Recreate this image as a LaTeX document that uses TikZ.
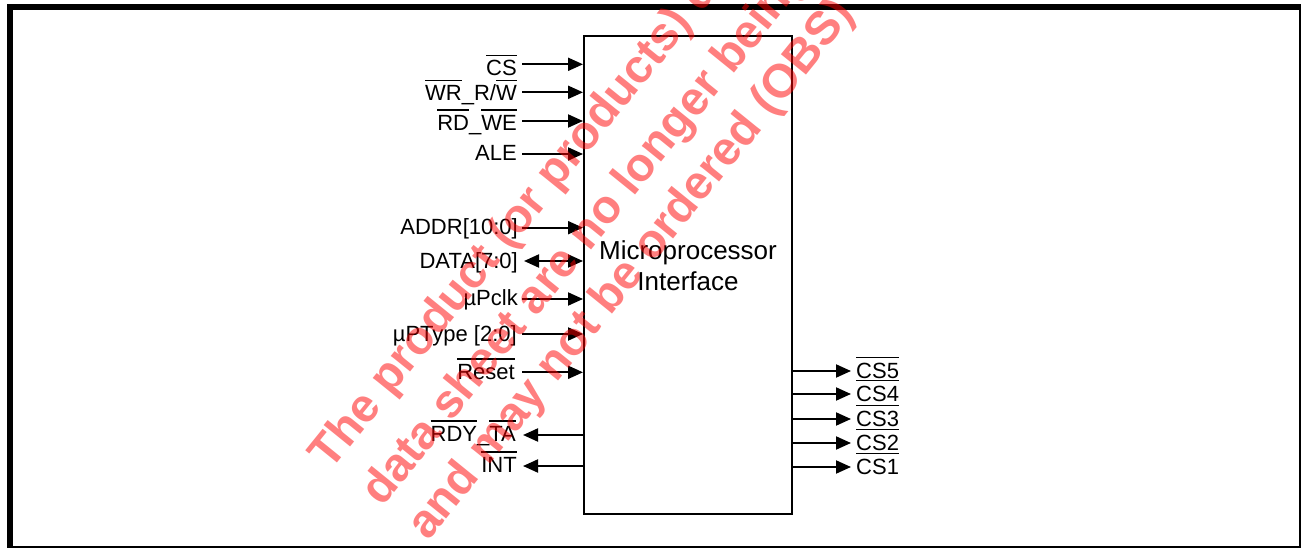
\documentclass[tikz,border=0pt]{standalone}
\usepackage{fontspec}
\setmainfont{Liberation Sans}
\usetikzlibrary{arrows.meta}
\newcommand{\ovl}[1]{\setbox0\hbox{#1}\rlap{\raisebox{\dimexpr\ht0+4.5pt\relax}{\rule{\wd0}{1.6pt}}}\box0}
\tikzset{
  lbl/.style={font=\fontsize{22}{25}\selectfont, inner sep=0pt, anchor=base east},
  rlbl/.style={font=\fontsize{22}{25}\selectfont, inner sep=0pt, anchor=base west},
  sig/.style={line width=2pt, -{Triangle[length=15pt,width=13pt]}},
  bisig/.style={line width=2pt, {Triangle[length=15pt,width=13pt]}-{Triangle[length=15pt,width=13pt]}},
  wm/.style={text=red, opacity=0.5, rotate=51, anchor=base west, inner sep=0pt,
    font=\bfseries\fontsize{47}{56}\selectfont},
}
\begin{document}
\begin{tikzpicture}[x=1pt,y=-1pt]
\useasboundingbox (0,0) rectangle (1301,548);
% frame
\draw[line width=6pt] (10,548) -- (10,7) -- (1301,7);
\draw[line width=2.5pt] (1299.75,7) -- (1299.75,548);
\draw[line width=2pt] (10,547) -- (1301,547);
% block
\node[draw, line width=2pt, minimum width=208pt, minimum height=478pt, inner sep=0pt, anchor=north west] (box) at (583,35) {};
\node[font=\fontsize{26}{31}\selectfont, align=center, inner sep=0pt] (title) at (688,266) {Microprocessor\\Interface};
% left inputs
\coordinate (s1) at (522,64.3);
\coordinate (s2) at (522,92.3);
\coordinate (s3) at (522,121);
\coordinate (s4) at (522,154);
\coordinate (s5) at (522,227.7);
\coordinate (s6) at (524,261);
\coordinate (s7) at (522,299);
\coordinate (s8) at (522,334);
\coordinate (s9) at (522,372.3);
\coordinate (s10) at (523,435);
\coordinate (s11) at (523,466);
\node[lbl] (l1) at (517,76) {\ovl{CS}};
\node[lbl] (l2) at (517,101) {\ovl{WR}\_R/\ovl{W}};
\node[lbl] (l3) at (517,130.7) {\ovl{RD}\_\ovl{WE}};
\node[lbl] (l4) at (517,160.5) {ALE};
\node[lbl] (l5) at (518,234.5) {ADDR[10:0]};
\node[lbl] (l6) at (518,268) {DATA[7:0]};
\node[lbl] (l7) at (518,305.5) {µPclk};
\node[lbl] (l8) at (517,341.7) {µPType [2:0]};
\node[lbl] (l9) at (515,379.3) {\ovl{Reset}};
\node[lbl] (l10) at (516,441.7) {\ovl{RDY}\_\ovl{TA}};
\node[lbl] (l11) at (517,472.7) {\ovl{INT}};
\foreach \i in {1,2,3,4,5,7,8,9}{\draw[sig] (s\i) -- (s\i -| box.west);}
\draw[bisig] (s6) -- (s6 -| box.west);
\draw[sig] (s10 -| box.west) -- (s10);
\draw[sig] (s11 -| box.west) -- (s11);
% right outputs
\coordinate (r5) at (851,371);
\coordinate (r4) at (851,394);
\coordinate (r3) at (851,419);
\coordinate (r2) at (851,443);
\coordinate (r1) at (851,467);
\foreach \i in {1,...,5}{\draw[sig] (r\i -| box.east) -- (r\i);}
\node[rlbl] (c5) at (856,378) {\ovl{CS5}};
\node[rlbl] (c4) at (856,401) {\ovl{CS4}};
\node[rlbl] (c3) at (856,426) {\ovl{CS3}};
\node[rlbl] (c2) at (856,450) {\ovl{CS2}};
\node[rlbl] (c1) at (856,474) {\ovl{CS1}};
% watermark
\begin{scope}
\clip (0,0) rectangle (1301,548);
\node[wm] (w1) at (330,472) {The product (or products) described in this};
\node[wm] (w2) at (382,508) {data sheet are no longer being manufactured};
\node[wm] (w3) at (428,542) {and may not be ordered (OBS)};
\end{scope}
\end{tikzpicture}
\end{document}
